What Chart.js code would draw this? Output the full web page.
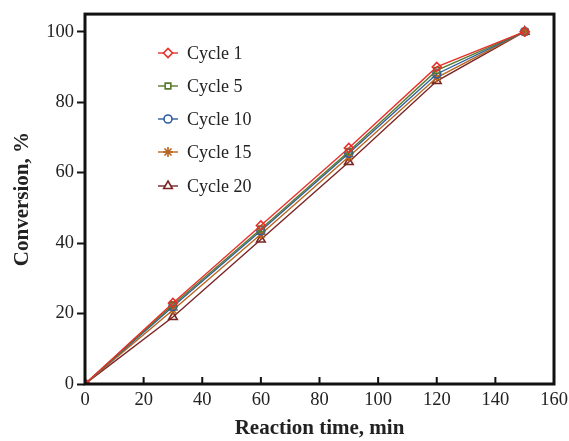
<!DOCTYPE html>
<html><head><meta charset="utf-8">
<script src="https://cdn.jsdelivr.net/npm/chart.js@4"></script>
<style>html,body{margin:0;padding:0;background:#fff}#wrap{width:569px;height:441px}</style>
</head><body><div id="wrap"><canvas id="c" width="569" height="441"></canvas></div>
<script>
const times = [0, 30, 60, 90, 120, 150];
const cycle1 = [0, 23, 45, 67, 90, 100];
const cycle5 = [0, 22.5, 44, 66, 89, 100];
const cycle10 = [0, 22, 43.5, 65.5, 88, 100];
const cycle15 = [0, 21, 42.5, 64.5, 87, 100];
const cycle20 = [0, 19, 41, 63, 86, 100];
const seriesNames = ['Cycle 1', 'Cycle 5', 'Cycle 10', 'Cycle 15', 'Cycle 20'];
const yTicks = [0, 20, 40, 60, 80, 100];
const xTicks = [0, 20, 40, 60, 80, 100, 120, 140, 160];

const colors = ['#e8302a', '#587a2e', '#2e5d9e', '#b8651f', '#7b2424'];
const styles = ['rectRot', 'rect', 'circle', 'star', 'triangle'];
const radii = [4.5, 4, 4, 5, 5];
const all = [cycle1, cycle5, cycle10, cycle15, cycle20];

const datasets = all.map((arr, i) => ({
  label: seriesNames[i],
  data: times.map((t, j) => ({x: t, y: arr[j]})),
  borderColor: colors[i],
  backgroundColor: 'rgba(0,0,0,0)',
  pointBorderColor: colors[i],
  pointBackgroundColor: 'rgba(255,255,255,0)',
  pointStyle: styles[i],
  pointRadius: radii[i],
  pointBorderWidth: 1.6,
  borderWidth: 1.4,
  tension: 0
}));

const frame = {
  id: 'frame',
  afterDatasetsDraw(chart) {
    const {ctx, chartArea: a, scales} = chart;
    ctx.save();
    ctx.strokeStyle = '#111';
    ctx.lineWidth = 3;
    ctx.strokeRect(a.left, a.top, a.right - a.left, a.bottom - a.top);
    ctx.lineWidth = 2;
    xTicks.forEach(v => {
      const px = scales.x.getPixelForValue(v);
      ctx.beginPath(); ctx.moveTo(px, a.bottom); ctx.lineTo(px, a.bottom - 7); ctx.stroke();
    });
    const rows = [53, 86, 119, 152, 186];
    ctx.textBaseline = 'middle';
    chart.data.datasets.forEach((ds, i) => {
      const y = rows[i];
      ctx.strokeStyle = ds.borderColor;
      ctx.lineWidth = 1.4;
      ctx.beginPath(); ctx.moveTo(158, y); ctx.lineTo(178, y); ctx.stroke();
      ctx.lineWidth = 1.6;
      ctx.fillStyle = '#ffffff';
      Chart.helpers.drawPoint(ctx, {pointStyle: ds.pointStyle, radius: ds.pointRadius, rotation: 0, borderWidth: 1.6}, 168, y);
      ctx.fillStyle = '#222';
      ctx.font = '18px "Liberation Serif", serif';
      ctx.fillText(ds.label, 187, y + 1);
    });
    ctx.restore();
  }
};

new Chart(document.getElementById('c'), {
  type: 'line',
  data: {datasets},
  plugins: [frame],
  options: {
    responsive: false,
    animation: false,
    layout: {padding: {top: 12, right: 0, left: 0, bottom: 0}},
    plugins: {legend: {display: false}, tooltip: {enabled: false}},
    scales: {
      x: {
        type: 'linear', min: 0, max: 160,
        afterBuildTicks: s => { s.ticks = xTicks.map(v => ({value: v})); },
        afterFit: s => { s.height = 57; s.paddingRight = 15; s.paddingLeft = 0; },
        grid: {display: false, drawTicks: false},
        border: {display: false},
        ticks: {color: '#222', padding: 5, font: {family: '"Liberation Serif", serif', size: 18.5}, maxRotation: 0},
        title: {display: true, text: 'Reaction time, min', color: '#222', padding: {top: 0, bottom: 0},
          font: {family: '"Liberation Serif", serif', size: 21, weight: 'bold'}}
      },
      y: {
        type: 'linear', min: 0, max: 105,
        afterBuildTicks: s => { s.ticks = yTicks.map(v => ({value: v})); },
        afterFit: s => { s.width = 85; },
        grid: {drawOnChartArea: false, drawTicks: true, tickLength: 8, tickWidth: 2, tickColor: '#111'},
        border: {display: false},
        ticks: {color: '#222', padding: 3, font: {family: '"Liberation Serif", serif', size: 18.5}},
        title: {display: true, text: 'Conversion, %', color: '#222', padding: {top: 10, bottom: 0},
          font: {family: '"Liberation Serif", serif', size: 21, weight: 'bold'}}
      }
    }
  }
});
</script></body></html>
